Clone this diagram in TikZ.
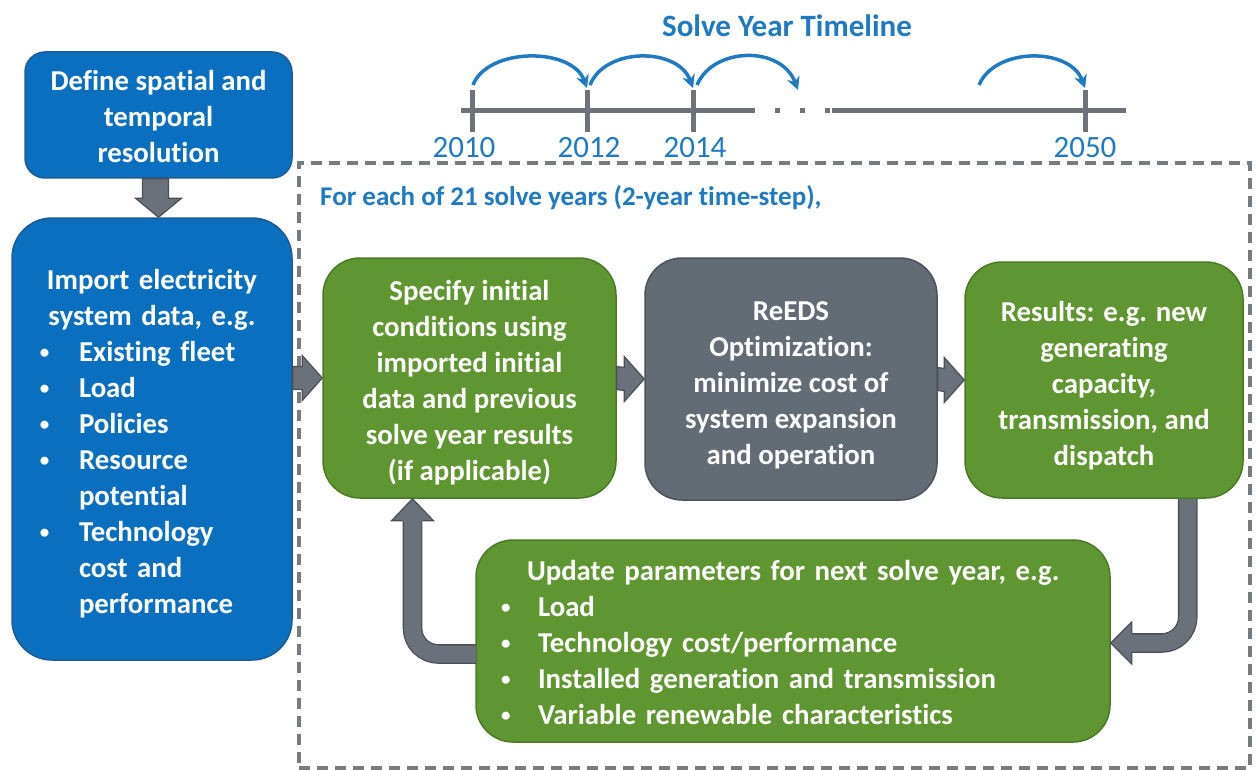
\documentclass[tikz,border=0pt]{standalone}
\usepackage{fontspec}
\setmainfont{Carlito}[Ligatures=NoCommon]
\usetikzlibrary{arrows.meta,calc}

\definecolor{boxblue}{HTML}{0B6FBF}
\definecolor{blueedge}{HTML}{1D5C94}
\definecolor{boxgreen}{HTML}{5E9732}
\definecolor{greenedge}{HTML}{4A7A27}
\definecolor{boxgray}{HTML}{636B74}
\definecolor{grayedge}{HTML}{4C535B}
\definecolor{arrowgray}{HTML}{6A717A}
\definecolor{arrowedge}{HTML}{4A5058}
\definecolor{hopblue}{HTML}{1F7AC2}
\definecolor{lineg}{HTML}{6E7379}
\definecolor{dashgray}{HTML}{777C82}

\newcommand\boxfont{\fontsize{28.8}{36}\selectfont\bfseries}
% small list bullet in a box of width #1
\newcommand\bul[1]{\makebox[#1][l]{\raisebox{3.5pt}{\fontsize{19}{19}\selectfont\textbullet}}}
% extra room above the first line, pushing a text block down
\newcommand\dn[1]{\rule{0pt}{#1}}

\tikzset{
  box/.style={rounded corners=37pt, line width=1.5pt, inner sep=0pt,
    text=white, font=\boxfont, align=center},
  bluebox/.style={box, fill=boxblue, draw=blueedge},
  greenbox/.style={box, fill=boxgreen, draw=greenedge},
  graybox/.style={box, fill=boxgray, draw=grayedge},
  blockhead/.style={fill=arrowgray, draw=arrowedge, line width=1.2pt, line join=miter},
  elbow/.style={draw=arrowedge, line width=1.3pt, double=arrowgray,
    double distance=17pt, rounded corners=26pt},
  axis/.style={draw=lineg, line width=5pt},
  hop/.style={draw=hopblue, line width=3.5pt, -{Stealth[length=13pt,width=13pt]}},
  year/.style={text=hopblue, font=\fontsize{31}{36}\selectfont, inner sep=0pt, anchor=base}
}

% horizontal block arrow from #1 to tip #2
\newcommand\hblock[2]{%
  \draw[blockhead] ($(#1)+(0,-11.5)$) -- ($(#2)+(-20,-11.5)$) -- ($(#2)+(-20,-22.5)$)
    -- (#2) -- ($(#2)+(-20,22.5)$) -- ($(#2)+(-20,11.5)$) -- ($(#1)+(0,11.5)$) -- cycle;}

\begin{document}
\begin{tikzpicture}[x=1pt,y=-1pt]
\useasboundingbox (0,0) rectangle (1257,770);

% ---- solve-year timeline ----
\node[text=hopblue, font=\fontsize{31}{36}\selectfont\bfseries, inner sep=0pt, anchor=base]
  (title) at (787,37) {Solve Year Timeline};

\coordinate (k0) at (472,111);
\coordinate (k1) at (587,111);
\coordinate (k2) at (693,111);
\coordinate (k3) at (1085,111);

\draw[axis] (461,111) -- (755,111);
\draw[axis] (832,111) -- (1126,111);
\foreach \k in {k0,k1,k2,k3}
  \draw[axis] ($(\k)+(0,-21)$) -- ($(\k)+(0,21)$);
\foreach \d in {777,802,827}
  \fill[lineg] (\d-2.5,108.5) rectangle (\d+2.5,113.5);

\draw[hop] ($(k0)+(1,-26)$) .. controls ($(k0)+(16,-64)$) and ($(k1)+(-15,-64)$) .. ($(k1)+(0,-23)$);
\draw[hop] ($(k1)+(3,-26)$) .. controls ($(k1)+(18,-64)$) and ($(k2)+(-15,-64)$) .. ($(k2)+(0,-23)$);
\draw[hop] ($(k2)+(4,-26)$) .. controls ($(k2)+(20,-64)$) and ($(k2)+(88,-66)$) .. (798,90);
\draw[hop] ($(k3)+(-106,-26)$) .. controls ($(k3)+(-90,-64)$) and ($(k3)+(-15,-64)$) .. ($(k3)+(0,-23)$);

\node[year] (y2010) at (464,158) {2010};
\node[year] (y2012) at (589,158) {2012};
\node[year] (y2014) at (695,158) {2014};
\node[year] (y2050) at (1085,158) {2050};

% ---- per-year loop frame ----
\node[draw=dashgray, line width=3.5pt, dash pattern=on 11pt off 7pt, inner sep=0pt,
  minimum width=951pt, minimum height=605pt] (loop) at (774.5,465.5) {};
\node[anchor=base west, text=hopblue, font=\fontsize{27}{30}\selectfont\bfseries, inner sep=0pt]
  (loopnote) at (320,205) {For each of 21 solve years (2-year time-step),};

% ---- boxes ----
\node[bluebox, rounded corners=20pt, minimum width=267pt, minimum height=126pt]
  (A) at (158.5,115) {\dn{24pt}Define spatial and\\temporal\\resolution};

\node[bluebox, rounded corners=40pt, minimum width=280pt, minimum height=442pt,
  text width=280pt, align=left] (B) at (152,439)
  {{\centering \dn{30pt}Import electricity\\system data, e.g.\par}
   \hspace*{28pt}\bul{39pt}Existing fleet\\
   \hspace*{28pt}\bul{39pt}Load\\
   \hspace*{28pt}\bul{39pt}Policies\\
   \hspace*{28pt}\bul{39pt}Resource\\
   \hspace*{67pt}potential\\
   \hspace*{28pt}\bul{39pt}Technology\\
   \hspace*{67pt}cost and\\
   \hspace*{67pt}performance};

\node[greenbox, minimum width=293pt, minimum height=240pt] (C) at (469.5,378)
  {\dn{30pt}Specify initial\\conditions using\\imported initial\\data and previous\\solve year results\\(if applicable)};

\node[graybox, minimum width=292pt, minimum height=242pt] (D) at (791,379)
  {\dn{32pt}ReEDS\\Optimization:\\minimize cost of\\system expansion\\and operation};

\node[greenbox, minimum width=278pt, minimum height=236pt] (E) at (1104,380)
  {\dn{32pt}Results: e.g. new\\generating\\capacity,\\transmission, and\\dispatch};

\node[greenbox, minimum width=634pt, minimum height=202pt, text width=634pt, align=left]
  (F) at (793,641)
  {\hspace*{51pt}\dn{24pt}Update parameters for next solve year, e.g.\\
   \hspace*{25pt}\bul{37pt}Load\\
   \hspace*{25pt}\bul{37pt}Technology cost/performance\\
   \hspace*{25pt}\bul{37pt}Installed generation and transmission\\
   \hspace*{25pt}\bul{37pt}Variable renewable characteristics};

% ---- block arrows ----
% A down to B
\draw[blockhead] ($(A.south)+(-16,0)$) -- ($(A.south |- B.north)+(-16,-19)$)
  -- ($(A.south |- B.north)+(-23,-19)$) -- (A.south |- B.north)
  -- ($(A.south |- B.north)+(23,-19)$) -- ($(A.south |- B.north)+(10,-19)$)
  -- ($(A.south)+(10,0)$) -- cycle;

\hblock{B.east |- C.west}{C.west}
\hblock{C.east}{D.west}
\hblock{D.east}{E.west}

% results feed the parameter update
\coordinate (e0) at ($(E.south east)+(-56,0)$);
\coordinate (fb) at ($(F.east)+(21,2)$);
\draw[elbow] (e0) |- (fb);
\draw[blockhead] ($(fb)+(0,-10)$) -- ($(fb)+(0,-21)$) -- ($(F.east)+(0,2)$)
  -- ($(fb)+(0,21)$) -- ($(fb)+(0,10)$);

% updated parameters return to the initial conditions
\coordinate (f0) at ($(F.west)+(1,13)$);
\coordinate (cb) at ($(C.south)+(-57,22)$);
\draw[elbow] (f0) -| (cb);
\draw[blockhead] ($(cb)+(-10,0)$) -- ($(cb)+(-21,0)$) -- ($(C.south)+(-57,0)$)
  -- ($(cb)+(21,0)$) -- ($(cb)+(10,0)$);
\end{tikzpicture}
\end{document}
